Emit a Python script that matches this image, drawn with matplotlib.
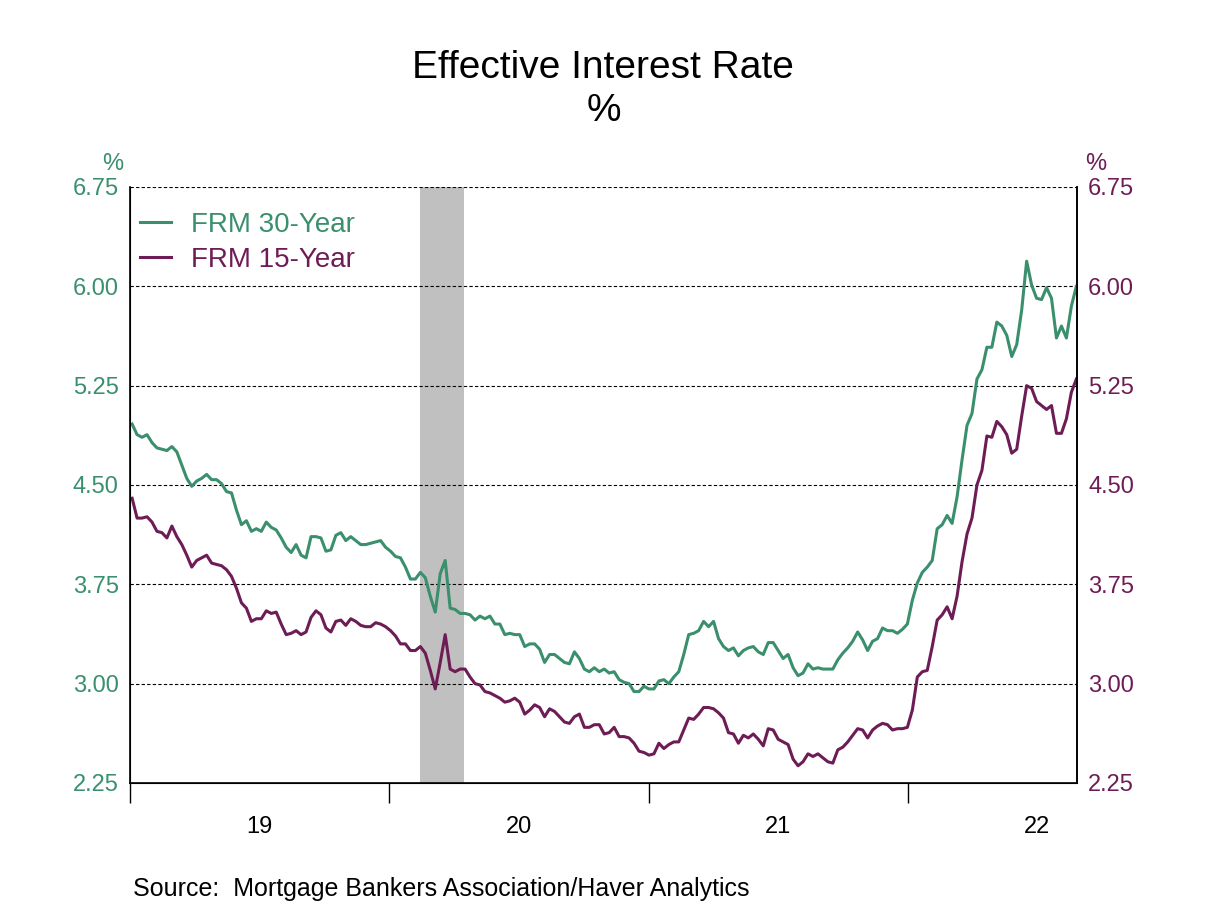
import matplotlib
matplotlib.use("Agg")
import matplotlib.pyplot as plt
import matplotlib.dates as mdates
import pandas as pd

plt.rcParams['font.family'] = ['Liberation Sans', 'DejaVu Sans']

GREEN = '#3a8f6d'
PURPLE = '#6e1c55'

# weekly observations, first week ending 2019-01-04
start_date = '2019-01-04'

frm30 = [
    4.96, 4.88, 4.86, 4.88, 4.82, 4.78, 4.77, 4.76, 4.79, 4.75,
    4.65, 4.55, 4.49, 4.53, 4.55, 4.58, 4.54, 4.54, 4.51, 4.45,
    4.44, 4.31, 4.20, 4.23, 4.15, 4.17, 4.15, 4.22, 4.18, 4.16,
    4.10, 4.03, 3.99, 4.05, 3.97, 3.95, 4.11, 4.11, 4.10, 4.00,
    4.01, 4.12, 4.14, 4.08, 4.11, 4.08, 4.05, 4.05, 4.06, 4.07,
    4.08, 4.03, 4.00, 3.96, 3.95, 3.88, 3.79, 3.79, 3.84, 3.80,
    3.66, 3.54, 3.83, 3.93, 3.57, 3.56, 3.53, 3.53, 3.52, 3.48,
    3.51, 3.49, 3.51, 3.45, 3.45, 3.37, 3.38, 3.37, 3.37, 3.28,
    3.30, 3.30, 3.26, 3.16, 3.22, 3.22, 3.19, 3.16, 3.15, 3.24,
    3.19, 3.11, 3.09, 3.12, 3.09, 3.11, 3.08, 3.09, 3.03, 3.01,
    3.00, 2.94, 2.94, 2.98, 2.96, 2.96, 3.02, 3.03, 3.00, 3.05,
    3.09, 3.22, 3.37, 3.38, 3.40, 3.47, 3.43, 3.47, 3.34, 3.28,
    3.25, 3.27, 3.21, 3.25, 3.27, 3.28, 3.24, 3.22, 3.31, 3.31,
    3.25, 3.19, 3.22, 3.12, 3.06, 3.08, 3.15, 3.11, 3.12, 3.11,
    3.11, 3.11, 3.18, 3.23, 3.27, 3.32, 3.39, 3.33, 3.25, 3.32,
    3.34, 3.42, 3.40, 3.40, 3.38, 3.41, 3.45, 3.63, 3.76, 3.84,
    3.88, 3.93, 4.17, 4.20, 4.27, 4.21, 4.41, 4.69, 4.95, 5.04,
    5.30, 5.37, 5.54, 5.54, 5.73, 5.70, 5.63, 5.47, 5.56, 5.82,
    6.19, 6.01, 5.91, 5.90, 5.99, 5.91, 5.61, 5.70, 5.61, 5.85,
    6.00,
]

frm15 = [
    4.40, 4.25, 4.25, 4.26, 4.22, 4.15, 4.14, 4.10, 4.19, 4.11,
    4.05, 3.97, 3.88, 3.93, 3.95, 3.97, 3.91, 3.90, 3.89, 3.86,
    3.81, 3.72, 3.61, 3.57, 3.47, 3.49, 3.49, 3.55, 3.53, 3.54,
    3.45, 3.37, 3.38, 3.40, 3.37, 3.39, 3.50, 3.55, 3.52, 3.42,
    3.39, 3.47, 3.48, 3.44, 3.49, 3.47, 3.44, 3.43, 3.43, 3.46,
    3.45, 3.43, 3.40, 3.36, 3.30, 3.30, 3.25, 3.25, 3.28, 3.23,
    3.10, 2.96, 3.16, 3.37, 3.11, 3.09, 3.11, 3.11, 3.05, 3.00,
    2.99, 2.94, 2.93, 2.91, 2.89, 2.86, 2.87, 2.89, 2.86, 2.77,
    2.80, 2.84, 2.82, 2.75, 2.81, 2.79, 2.75, 2.71, 2.70, 2.75,
    2.77, 2.67, 2.67, 2.69, 2.69, 2.62, 2.63, 2.67, 2.60, 2.60,
    2.59, 2.55, 2.49, 2.48, 2.46, 2.47, 2.55, 2.51, 2.54, 2.56,
    2.56, 2.65, 2.74, 2.73, 2.77, 2.82, 2.82, 2.81, 2.78, 2.74,
    2.63, 2.62, 2.55, 2.61, 2.59, 2.62, 2.58, 2.53, 2.66, 2.65,
    2.58, 2.56, 2.54, 2.43, 2.38, 2.41, 2.47, 2.45, 2.47, 2.44,
    2.41, 2.40, 2.50, 2.52, 2.56, 2.61, 2.66, 2.65, 2.59, 2.65,
    2.68, 2.70, 2.69, 2.65, 2.66, 2.66, 2.67, 2.80, 3.05, 3.09,
    3.10, 3.28, 3.48, 3.52, 3.58, 3.49, 3.66, 3.92, 4.13, 4.25,
    4.50, 4.61, 4.87, 4.86, 4.98, 4.94, 4.88, 4.74, 4.77, 5.02,
    5.25, 5.23, 5.13, 5.10, 5.07, 5.10, 4.89, 4.89, 5.00, 5.20,
    5.30,
]

y_ticks = [2.25, 3.00, 3.75, 4.50, 5.25, 6.00, 6.75]
year_labels = ['19', '20', '21', '22']
recession = ('2020-02-14', '2020-04-15')

dates = pd.date_range(start_date, periods=len(frm30), freq='7D')

fig = plt.figure(figsize=(12.08, 9.06), dpi=100)
ax = fig.add_axes([0.1076, 0.1358, 0.7840, 0.6578])

ax.axvspan(pd.Timestamp(recession[0]), pd.Timestamp(recession[1]),
           color='#c0c0c0', lw=0, zorder=1)

for yv in y_ticks[1:]:
    ax.axhline(yv, color='black', lw=0.8, ls=(0, (3, 2)), zorder=2)

ax.plot(dates, frm30, color=GREEN, lw=2.2, label='FRM 30-Year', zorder=3)
ax.plot(dates, frm15, color=PURPLE, lw=2.2, label='FRM 15-Year', zorder=3)

ax.set_xlim(pd.Timestamp('2019-01-01'), pd.Timestamp('2022-08-27'))
ax.set_ylim(2.25, 6.75)
ax.set_yticks(y_ticks)
ax.set_yticklabels(['%.2f' % v for v in y_ticks])
ax.tick_params(axis='y', length=0, labelsize=17, labelcolor=GREEN, pad=8)

# year boundaries as ticks, labels centred in each year
ax.xaxis.set_major_locator(mdates.YearLocator())
ax.xaxis.set_major_formatter(plt.NullFormatter())
ax.set_xticks([pd.Timestamp('%d-07-02' % (2019 + i)) for i in range(4)], minor=True)
ax.set_xticklabels(year_labels, minor=True)
ax.tick_params(axis='x', which='major', direction='out', length=14.5, width=1, color='black')
ax.tick_params(axis='x', which='minor', length=0, labelsize=17, pad=24)

ax.spines['top'].set_visible(False)
for s in ['left', 'right', 'bottom']:
    ax.spines[s].set_linewidth(1.2)

ax2 = ax.twinx()
ax2.set_ylim(2.25, 6.75)
ax2.set_yticks(y_ticks)
ax2.set_yticklabels(['%.2f' % v for v in y_ticks])
ax2.tick_params(axis='y', length=0, labelsize=17, labelcolor=PURPLE, pad=8)
ax2.spines['top'].set_visible(False)
ax2.spines['right'].set_linewidth(1.2)

fig.text(0.0935, 0.812, '%', color=GREEN, fontsize=17, ha='center')
fig.text(0.907, 0.812, '%', color=PURPLE, fontsize=17, ha='center')

leg = ax.legend(loc='upper left', bbox_to_anchor=(0.0106, 0.958), frameon=False,
                borderaxespad=0, borderpad=0,
                fontsize=20, handlelength=1.1, handletextpad=0.72, labelspacing=0.33)
for txt, c in zip(leg.get_texts(), [GREEN, PURPLE]):
    txt.set_color(c)

fig.text(0.4995, 0.914, 'Effective Interest Rate', ha='center', fontsize=28)
fig.text(0.4995, 0.866, '%', ha='center', fontsize=28)
fig.text(0.110, 0.006, 'Source:  Mortgage Bankers Association/Haver Analytics',
         fontsize=18, va='bottom')

fig.savefig('out.png', dpi=100)
